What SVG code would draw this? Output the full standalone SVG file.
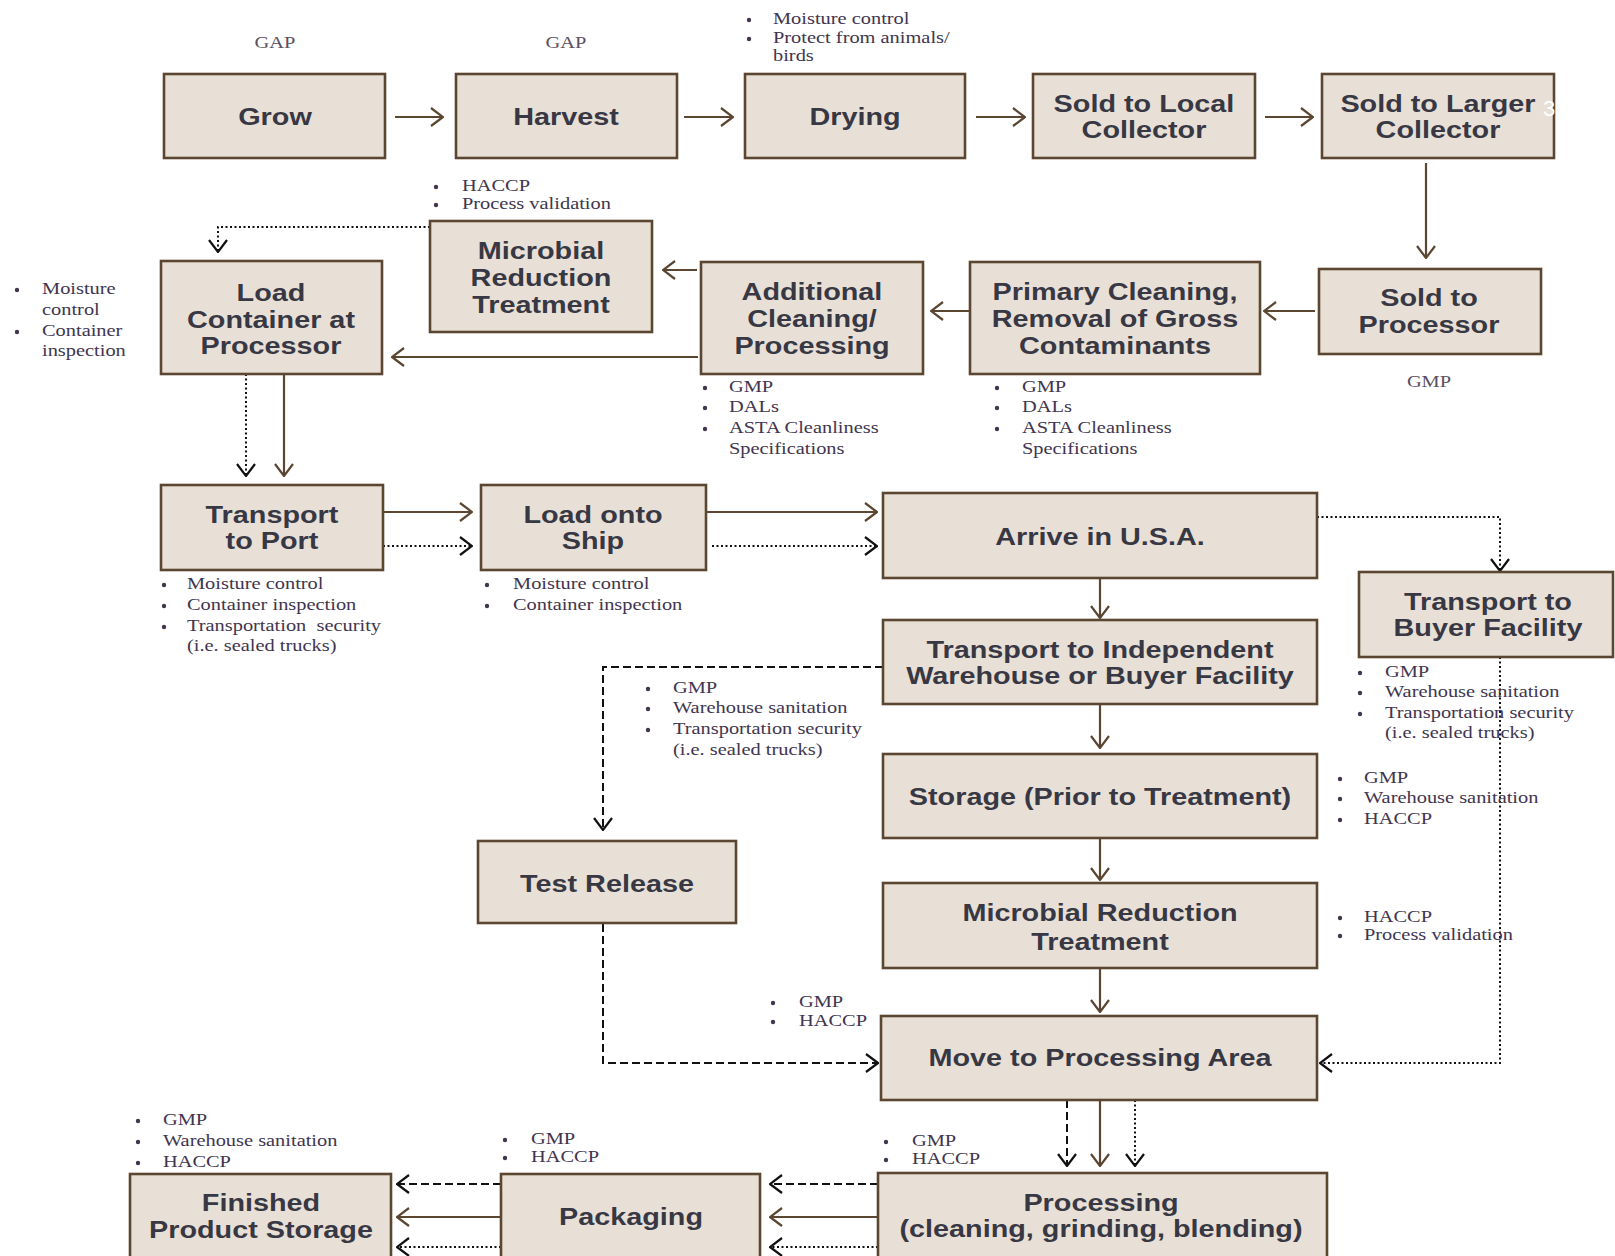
<svg xmlns="http://www.w3.org/2000/svg" width="1615" height="1256" viewBox="0 0 1615 1256">
<style>
.box{fill:#e8e0d6;stroke:#5b4631;stroke-width:2.6}
.bt{font-family:"Liberation Sans",Arial,sans-serif;font-weight:bold;font-size:24px;fill:#383844;text-anchor:middle}
.nt{font-family:"Liberation Serif","Times New Roman",serif;font-size:17px;fill:#41354f}
.ntc{font-family:"Liberation Serif","Times New Roman",serif;font-size:17px;fill:#5a5060;text-anchor:middle}
.bul{fill:#41354f}
.s{fill:none;stroke:#5b4631;stroke-width:2.2;marker-end:url(#ab)}
.d{fill:none;stroke:#111;stroke-width:2;stroke-dasharray:8 4;marker-end:url(#ak)}
.o{fill:none;stroke:#111;stroke-width:2;stroke-dasharray:2 2.5;marker-end:url(#ak)}
</style>
<defs>
<marker id="ab" viewBox="0 0 14 20" refX="13" refY="10" markerWidth="14" markerHeight="20" markerUnits="userSpaceOnUse" orient="auto">
<path d="M1,1 L13,10 L1,19" fill="none" stroke="#5b4631" stroke-width="2.2"/>
</marker>
<marker id="ak" viewBox="0 0 14 20" refX="13" refY="10" markerWidth="14" markerHeight="20" markerUnits="userSpaceOnUse" orient="auto">
<path d="M1,1 L13,10 L1,19" fill="none" stroke="#111" stroke-width="2.2"/>
</marker>
</defs>
<rect width="1615" height="1256" fill="#fff"/>

<g id="connectors">
<path class="s" d="M395,117 H443"/>
<path class="s" d="M684,117 H733"/>
<path class="s" d="M976,117 H1025"/>
<path class="s" d="M1265,117 H1313"/>
<path class="s" d="M1426,163 V258"/>
<path class="s" d="M1315,311 H1264"/>
<path class="s" d="M970,311 H931"/>
<path class="s" d="M697,270 H663"/>
<path class="s" d="M698,357 H392"/>
<path class="s" d="M284,374 V476"/>
<path class="s" d="M383,512 H472"/>
<path class="s" d="M706,512 H877"/>
<path class="s" d="M1100,578 V618"/>
<path class="s" d="M1100,704 V748"/>
<path class="s" d="M1100,838 V880"/>
<path class="s" d="M1100,968 V1012"/>
<path class="s" d="M1100,1100 V1166"/>
<path class="s" d="M878,1217 H770"/>
<path class="s" d="M501,1217 H397"/>

<path class="o" d="M430,227 H218 V252"/>
<path class="o" d="M246,374 V476"/>
<path class="o" d="M383,546 H472"/>
<path class="o" d="M712,546 H877"/>
<path class="o" d="M1317,517 H1500 V571"/>
<path class="o" d="M1500,657 V1063 H1320"/>
<path class="o" d="M1135,1100 V1166"/>
<path class="o" d="M878,1247 H770"/>
<path class="o" d="M501,1247 H397"/>

<path class="d" d="M883,667 H603 V830"/>
<path class="d" d="M603,924 V1063 H878"/>
<path class="d" d="M1067,1100 V1166"/>
<path class="d" d="M878,1184 H770"/>
<path class="d" d="M501,1184 H397"/>
</g>

<g id="grow">
<rect class="box" x="164" y="74" width="221" height="84"/>
<text class="bt" transform="scale(1.2,1)" x="229.17" y="125">Grow</text>
<text class="ntc" transform="scale(1.2,1)" x="229.17" y="48">GAP</text>
</g>
<g id="harvest">
<rect class="box" x="456" y="74" width="221" height="84"/>
<text class="bt" transform="scale(1.2,1)" x="471.67" y="125">Harvest</text>
<text class="ntc" transform="scale(1.2,1)" x="471.67" y="48">GAP</text>
</g>
<g id="drying">
<rect class="box" x="745" y="74" width="220" height="84"/>
<text class="bt" transform="scale(1.2,1)" x="712.5" y="125">Drying</text>
<circle class="bul" cx="749" cy="20" r="2.2"/>
<circle class="bul" cx="749" cy="39" r="2.2"/>
<text class="nt" transform="scale(1.2,1)"><tspan x="644.17" y="24">Moisture control</tspan><tspan x="644.17" y="43">Protect from animals/</tspan><tspan x="644.17" y="61">birds</tspan></text>
</g>
<g id="local-collector">
<rect class="box" x="1033" y="74" width="222" height="84"/>
<text class="bt" transform="scale(1.2,1)"><tspan x="953.33" y="112">Sold to Local</tspan><tspan x="953.33" y="138">Collector</tspan></text>
</g>
<g id="larger-collector">
<rect class="box" x="1322" y="74" width="232" height="84"/>
<text class="bt" transform="scale(1.2,1)"><tspan x="1198.33" y="112">Sold to Larger</tspan><tspan x="1198.33" y="138">Collector</tspan></text>
<text x="1543" y="116" font-family="Liberation Sans, Arial, sans-serif" font-size="22" fill="#ffffff">3</text>
</g>
<g id="sold-processor">
<rect class="box" x="1319" y="269" width="222" height="85"/>
<text class="bt" transform="scale(1.2,1)"><tspan x="1190.83" y="306">Sold to</tspan><tspan x="1190.83" y="333">Processor</tspan></text>
<text class="ntc" transform="scale(1.2,1)" x="1190.83" y="387">GMP</text>
</g>
<g id="primary-cleaning">
<rect class="box" x="970" y="262" width="290" height="112"/>
<text class="bt" transform="scale(1.2,1)"><tspan x="929.17" y="300">Primary Cleaning,</tspan><tspan x="929.17" y="327">Removal of Gross</tspan><tspan x="929.17" y="354">Contaminants</tspan></text>
<circle class="bul" cx="997" cy="388" r="2.2"/>
<circle class="bul" cx="997" cy="408" r="2.2"/>
<circle class="bul" cx="997" cy="429" r="2.2"/>
<text class="nt" transform="scale(1.2,1)"><tspan x="851.67" y="392">GMP</tspan><tspan x="851.67" y="412">DALs</tspan><tspan x="851.67" y="433">ASTA Cleanliness</tspan><tspan x="851.67" y="454">Specifications</tspan></text>
</g>
<g id="additional-cleaning">
<rect class="box" x="701" y="262" width="222" height="112"/>
<text class="bt" transform="scale(1.2,1)"><tspan x="676.67" y="300">Additional</tspan><tspan x="676.67" y="327">Cleaning/</tspan><tspan x="676.67" y="354">Processing</tspan></text>
<circle class="bul" cx="705" cy="388" r="2.2"/>
<circle class="bul" cx="705" cy="408" r="2.2"/>
<circle class="bul" cx="705" cy="429" r="2.2"/>
<text class="nt" transform="scale(1.2,1)"><tspan x="607.5" y="392">GMP</tspan><tspan x="607.5" y="412">DALs</tspan><tspan x="607.5" y="433">ASTA Cleanliness</tspan><tspan x="607.5" y="454">Specifications</tspan></text>
</g>
<g id="microbial-upper">
<rect class="box" x="430" y="221" width="222" height="111"/>
<text class="bt" transform="scale(1.2,1)"><tspan x="450.83" y="259">Microbial</tspan><tspan x="450.83" y="286">Reduction</tspan><tspan x="450.83" y="313">Treatment</tspan></text>
<circle class="bul" cx="436" cy="187" r="2.2"/>
<circle class="bul" cx="436" cy="205" r="2.2"/>
<text class="nt" transform="scale(1.2,1)"><tspan x="385" y="191">HACCP</tspan><tspan x="385" y="209">Process validation</tspan></text>
</g>
<g id="load-container">
<rect class="box" x="161" y="261" width="221" height="113"/>
<text class="bt" transform="scale(1.2,1)"><tspan x="225.83" y="301">Load</tspan><tspan x="225.83" y="328">Container at</tspan><tspan x="225.83" y="354">Processor</tspan></text>
<circle class="bul" cx="17" cy="290" r="2.2"/>
<circle class="bul" cx="17" cy="332" r="2.2"/>
<text class="nt" transform="scale(1.2,1)"><tspan x="35" y="294">Moisture</tspan><tspan x="35" y="315">control</tspan><tspan x="35" y="336">Container</tspan><tspan x="35" y="356">inspection</tspan></text>
</g>
<g id="transport-port">
<rect class="box" x="161" y="485" width="222" height="85"/>
<text class="bt" transform="scale(1.2,1)"><tspan x="226.67" y="523">Transport</tspan><tspan x="226.67" y="549">to Port</tspan></text>
<circle class="bul" cx="164" cy="585" r="2.2"/>
<circle class="bul" cx="164" cy="606" r="2.2"/>
<circle class="bul" cx="164" cy="627" r="2.2"/>
<text class="nt" transform="scale(1.2,1)"><tspan x="155.83" y="589">Moisture control</tspan><tspan x="155.83" y="610">Container inspection</tspan><tspan x="155.83" y="631">Transportation&#160; security</tspan><tspan x="155.83" y="651">(i.e. sealed trucks)</tspan></text>
</g>
<g id="load-ship">
<rect class="box" x="481" y="485" width="225" height="85"/>
<text class="bt" transform="scale(1.2,1)"><tspan x="494.17" y="523">Load onto</tspan><tspan x="494.17" y="549">Ship</tspan></text>
<circle class="bul" cx="487" cy="585" r="2.2"/>
<circle class="bul" cx="487" cy="606" r="2.2"/>
<text class="nt" transform="scale(1.2,1)"><tspan x="427.5" y="589">Moisture control</tspan><tspan x="427.5" y="610">Container inspection</tspan></text>
</g>
<g id="arrive-usa">
<rect class="box" x="883" y="493" width="434" height="85"/>
<text class="bt" transform="scale(1.2,1)" x="916.67" y="545">Arrive in U.S.A.</text>
</g>
<g id="transport-buyer">
<rect class="box" x="1359" y="572" width="254" height="85"/>
<text class="bt" transform="scale(1.2,1)"><tspan x="1240" y="610">Transport to</tspan><tspan x="1240" y="636">Buyer Facility</tspan></text>
<circle class="bul" cx="1360" cy="673" r="2.2"/>
<circle class="bul" cx="1360" cy="693" r="2.2"/>
<circle class="bul" cx="1360" cy="714" r="2.2"/>
<text class="nt" transform="scale(1.2,1)"><tspan x="1154.17" y="677">GMP</tspan><tspan x="1154.17" y="697">Warehouse sanitation</tspan><tspan x="1154.17" y="718">Transportation security</tspan><tspan x="1154.17" y="738">(i.e. sealed trucks)</tspan></text>
</g>
<g id="transport-independent">
<rect class="box" x="883" y="620" width="434" height="84"/>
<text class="bt" transform="scale(1.2,1)"><tspan x="916.67" y="658">Transport to Independent</tspan><tspan x="916.67" y="684">Warehouse or Buyer Facility</tspan></text>
<circle class="bul" cx="648" cy="689" r="2.2"/>
<circle class="bul" cx="648" cy="709" r="2.2"/>
<circle class="bul" cx="648" cy="730" r="2.2"/>
<text class="nt" transform="scale(1.2,1)"><tspan x="560.83" y="693">GMP</tspan><tspan x="560.83" y="713">Warehouse sanitation</tspan><tspan x="560.83" y="734">Transportation security</tspan><tspan x="560.83" y="755">(i.e. sealed trucks)</tspan></text>
</g>
<g id="storage">
<rect class="box" x="883" y="754" width="434" height="84"/>
<text class="bt" transform="scale(1.2,1)" x="916.67" y="805">Storage (Prior to Treatment)</text>
<circle class="bul" cx="1340" cy="779" r="2.2"/>
<circle class="bul" cx="1340" cy="799" r="2.2"/>
<circle class="bul" cx="1340" cy="820" r="2.2"/>
<text class="nt" transform="scale(1.2,1)"><tspan x="1136.67" y="783">GMP</tspan><tspan x="1136.67" y="803">Warehouse sanitation</tspan><tspan x="1136.67" y="824">HACCP</tspan></text>
</g>
<g id="microbial-lower">
<rect class="box" x="883" y="883" width="434" height="85"/>
<text class="bt" transform="scale(1.2,1)"><tspan x="916.67" y="921">Microbial Reduction</tspan><tspan x="916.67" y="950">Treatment</tspan></text>
<circle class="bul" cx="1340" cy="918" r="2.2"/>
<circle class="bul" cx="1340" cy="936" r="2.2"/>
<text class="nt" transform="scale(1.2,1)"><tspan x="1136.67" y="922">HACCP</tspan><tspan x="1136.67" y="940">Process validation</tspan></text>
</g>
<g id="test-release">
<rect class="box" x="478" y="841" width="258" height="82"/>
<text class="bt" transform="scale(1.2,1)" x="505.83" y="892">Test Release</text>
</g>
<g id="move-processing">
<rect class="box" x="881" y="1016" width="436" height="84"/>
<text class="bt" transform="scale(1.2,1)" x="916.67" y="1066">Move to Processing Area</text>
<circle class="bul" cx="773" cy="1003" r="2.2"/>
<circle class="bul" cx="773" cy="1022" r="2.2"/>
<text class="nt" transform="scale(1.2,1)"><tspan x="665.83" y="1007">GMP</tspan><tspan x="665.83" y="1026">HACCP</tspan></text>
</g>
<g id="processing">
<rect class="box" x="878" y="1173" width="449" height="100"/>
<text class="bt" transform="scale(1.2,1)"><tspan x="917.5" y="1211">Processing</tspan><tspan x="917.5" y="1237">(cleaning, grinding, blending)</tspan></text>
<circle class="bul" cx="886" cy="1142" r="2.2"/>
<circle class="bul" cx="886" cy="1160" r="2.2"/>
<text class="nt" transform="scale(1.2,1)"><tspan x="760" y="1146">GMP</tspan><tspan x="760" y="1164">HACCP</tspan></text>
</g>
<g id="packaging">
<rect class="box" x="501" y="1174" width="259" height="100"/>
<text class="bt" transform="scale(1.2,1)" x="525.83" y="1225">Packaging</text>
<circle class="bul" cx="505" cy="1140" r="2.2"/>
<circle class="bul" cx="505" cy="1158" r="2.2"/>
<text class="nt" transform="scale(1.2,1)"><tspan x="442.5" y="1144">GMP</tspan><tspan x="442.5" y="1162">HACCP</tspan></text>
</g>
<g id="finished-storage">
<rect class="box" x="130" y="1174" width="261" height="100"/>
<text class="bt" transform="scale(1.2,1)"><tspan x="217.5" y="1211">Finished</tspan><tspan x="217.5" y="1238">Product Storage</tspan></text>
<circle class="bul" cx="138" cy="1121" r="2.2"/>
<circle class="bul" cx="138" cy="1142" r="2.2"/>
<circle class="bul" cx="138" cy="1163" r="2.2"/>
<text class="nt" transform="scale(1.2,1)"><tspan x="135.83" y="1125">GMP</tspan><tspan x="135.83" y="1146">Warehouse sanitation</tspan><tspan x="135.83" y="1167">HACCP</tspan></text>
</g>
</svg>
